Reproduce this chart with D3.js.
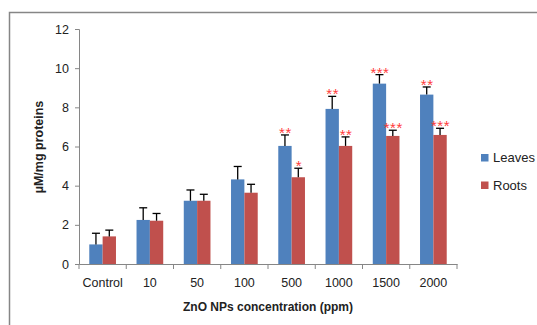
<!DOCTYPE html>
<html>
<head>
<meta charset="utf-8">
<script src="https://cdn.jsdelivr.net/npm/d3@7"></script>
<style>
  body { margin: 0; background: #fff; }
  svg { font-family: "Liberation Sans", Arial, sans-serif; }
</style>
</head>
<body>
<div id="chart"></div>
<script>
// data
var categories = ["Control", "10", "50", "100", "500", "1000", "1500", "2000"];
var leaves     = [1.0, 2.25, 3.23, 4.32, 6.03, 7.92, 9.21, 8.65];
var leavesErr  = [0.57, 0.62, 0.55, 0.66, 0.56, 0.64, 0.46, 0.39];
var roots      = [1.41, 2.21, 3.23, 3.64, 4.43, 6.03, 6.54, 6.59];
var rootsErr   = [0.32, 0.37, 0.33, 0.43, 0.46, 0.46, 0.29, 0.34];
var leavesSig  = ["", "", "", "", "**", "**", "***", "**"];
var rootsSig   = ["", "", "", "", "*", "**", "***", "***"];
var yTicks     = [0, 2, 4, 6, 8, 10, 12];
var seriesNames = ["Leaves", "Roots"];
var colors = {"Leaves": "#4F81BD", "Roots": "#C0504D"};

var width = 537, height = 325;
var margin = {left: 79, right: 80, top: 29, bottom: 61};

var svg = d3.select("#chart").append("svg")
    .attr("width", width).attr("height", height);

// outer frame
svg.append("rect")
    .attr("x", 9.5).attr("y", 12.5)
    .attr("width", 540).attr("height", 330)
    .attr("fill", "none").attr("stroke", "#868686").attr("stroke-width", 1.5);

var y = d3.scaleLinear().domain([0, 12]).range([height - margin.bottom, margin.top]);
var x = d3.scaleBand().domain(categories)
    .range([margin.left, 457]).paddingInner(0.435).paddingOuter(0.2175);
var xs = d3.scaleBand().domain(seriesNames).range([0, x.bandwidth()]);

var rows = categories.map(function(c, i) {
  return [
    {cat: c, name: "Leaves", v: leaves[i], e: leavesErr[i], sig: leavesSig[i]},
    {cat: c, name: "Roots", v: roots[i], e: rootsErr[i], sig: rootsSig[i]}
  ];
});
var flat = d3.merge(rows);

// y axis
var yAxis = svg.append("g")
    .attr("transform", "translate(" + margin.left + ",0)")
    .call(d3.axisLeft(y).tickValues(yTicks).tickSize(4).tickPadding(6));
yAxis.select(".domain").attr("stroke", "#868686");
yAxis.selectAll(".tick line").attr("stroke", "#868686");
yAxis.selectAll(".tick text").attr("font-size", 12.5).attr("fill", "#222");

// bars
svg.append("g").selectAll("rect")
    .data(flat).enter().append("rect")
    .attr("x", function(d) { return x(d.cat) + xs(d.name); })
    .attr("y", function(d) { return y(d.v); })
    .attr("width", xs.bandwidth())
    .attr("height", function(d) { return y(0) - y(d.v); })
    .attr("fill", function(d) { return colors[d.name]; });

// error bars
var eb = svg.append("g").selectAll("g")
    .data(flat).enter().append("g")
    .attr("stroke", "#000").attr("stroke-width", 1.3);
eb.append("line")
    .attr("x1", function(d) { return x(d.cat) + xs(d.name) + xs.bandwidth() / 2; })
    .attr("x2", function(d) { return x(d.cat) + xs(d.name) + xs.bandwidth() / 2; })
    .attr("y1", function(d) { return y(d.v); })
    .attr("y2", function(d) { return y(d.v + d.e); });
eb.append("line")
    .attr("x1", function(d) { return x(d.cat) + xs(d.name) + xs.bandwidth() / 2 - 4; })
    .attr("x2", function(d) { return x(d.cat) + xs(d.name) + xs.bandwidth() / 2 + 4; })
    .attr("y1", function(d) { return y(d.v + d.e); })
    .attr("y2", function(d) { return y(d.v + d.e); });

// significance stars
svg.append("g").selectAll("text")
    .data(flat.filter(function(d) { return d.sig; })).enter().append("text")
    .attr("x", function(d) { return x(d.cat) + xs(d.name) + xs.bandwidth() / 2 + 0.5; })
    .attr("y", function(d) { return y(d.v + d.e) + 3; })
    .attr("text-anchor", "middle")
    .attr("font-size", 15).attr("letter-spacing", 0.5)
    .attr("fill", "#FF3B3B")
    .text(function(d) { return d.sig; });

// x axis
var xAxis = svg.append("g")
    .attr("transform", "translate(0," + y(0) + ")")
    .call(d3.axisBottom(x).tickSize(0).tickPadding(14));
xAxis.select(".domain").attr("stroke", "#868686");
xAxis.selectAll(".tick text").attr("font-size", 12.5).attr("fill", "#222");
// category boundary ticks
var bounds = d3.range(categories.length + 1).map(function(i) { return margin.left + i * (457 - margin.left) / categories.length; });
xAxis.selectAll(".bound").data(bounds).enter().append("line")
    .attr("x1", function(d) { return d; }).attr("x2", function(d) { return d; })
    .attr("y1", 0).attr("y2", 5)
    .attr("stroke", "#868686");

// axis titles
svg.append("text")
    .attr("x", 268).attr("y", 311)
    .attr("text-anchor", "middle")
    .attr("font-size", 12).attr("font-weight", "bold").attr("fill", "#222")
    .text("ZnO NPs concentration (ppm)");
svg.append("text")
    .attr("transform", "translate(43,147) rotate(-90)")
    .attr("text-anchor", "middle")
    .attr("font-size", 12.5).attr("font-weight", "bold").attr("fill", "#222")
    .text("µM/mg proteins");

// legend
var legend = svg.append("g").selectAll("g")
    .data(seriesNames).enter().append("g")
    .attr("transform", function(d, i) { return "translate(481," + (154 + i * 27.5) + ")"; });
legend.append("rect")
    .attr("width", 7.5).attr("height", 7.5)
    .attr("fill", function(d) { return colors[d]; });
legend.append("text")
    .attr("x", 12).attr("y", 8)
    .attr("font-size", 13).attr("fill", "#222")
    .text(function(d) { return d; });
</script>
</body>
</html>
